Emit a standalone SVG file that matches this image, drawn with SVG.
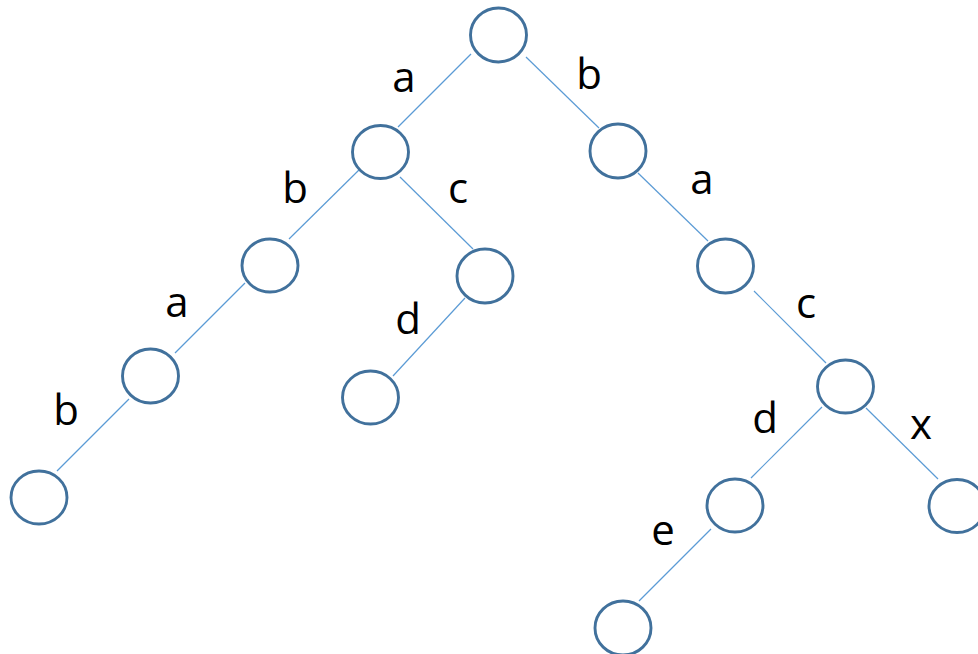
<svg xmlns="http://www.w3.org/2000/svg" width="978" height="654" viewBox="0 0 978 654">
<style>
.n{fill:#fff;stroke:#41719C;stroke-width:2.9}
.e{stroke:#5B9BD5;stroke-width:1.2;fill:none}
.t{font-family:"Open Sans","Liberation Sans",sans-serif;font-size:42px;fill:#000;text-anchor:middle}
</style>
<rect width="978" height="654" fill="#fff"/>
<g id="edges">
<line class="e" x1="471" y1="54" x2="398" y2="127"/>
<line class="e" x1="526" y1="57" x2="599" y2="128"/>
<line class="e" x1="362" y1="167" x2="289" y2="239"/>
<line class="e" x1="400" y1="177" x2="473" y2="249"/>
<line class="e" x1="638" y1="173" x2="708" y2="241"/>
<line class="e" x1="245" y1="283" x2="175" y2="353"/>
<line class="e" x1="465" y1="298" x2="393" y2="376"/>
<line class="e" x1="754" y1="291" x2="826" y2="363"/>
<line class="e" x1="129" y1="399" x2="57" y2="471"/>
<line class="e" x1="822" y1="407" x2="751" y2="478"/>
<line class="e" x1="866" y1="408" x2="938" y2="479"/>
<line class="e" x1="711" y1="529" x2="639" y2="601"/>
</g>
<g id="n0"><ellipse class="n" cx="498.5" cy="35" rx="28" ry="27"/></g>
<g id="n1"><ellipse class="n" cx="380.5" cy="152" rx="28" ry="26.5"/></g>
<g id="n2"><ellipse class="n" cx="618" cy="151" rx="28" ry="27"/></g>
<g id="n3"><ellipse class="n" cx="270" cy="265.5" rx="28" ry="26.5"/></g>
<g id="n4"><ellipse class="n" cx="485" cy="276" rx="28" ry="27"/></g>
<g id="n5"><ellipse class="n" cx="725.5" cy="266" rx="28" ry="27"/></g>
<g id="n6"><ellipse class="n" cx="150.5" cy="376" rx="28" ry="27"/></g>
<g id="n7"><ellipse class="n" cx="370.5" cy="397.5" rx="28" ry="26.5"/></g>
<g id="n8"><ellipse class="n" cx="845.5" cy="386.5" rx="28" ry="26.5"/></g>
<g id="n9"><ellipse class="n" cx="39" cy="497.5" rx="28" ry="26.5"/></g>
<g id="n10"><ellipse class="n" cx="735" cy="505.5" rx="28" ry="26.5"/></g>
<g id="n11"><ellipse class="n" cx="957" cy="506" rx="28" ry="26.5"/></g>
<g id="n12"><ellipse class="n" cx="623" cy="628" rx="28" ry="27"/></g>
<g id="labels">
<text class="t" x="404" y="92">a</text>
<text class="t" x="589" y="89">b</text>
<text class="t" x="295" y="203">b</text>
<text class="t" x="458" y="203">c</text>
<text class="t" x="702" y="194">a</text>
<text class="t" x="177" y="317">a</text>
<text class="t" x="408" y="334">d</text>
<text class="t" x="806" y="318">c</text>
<text class="t" x="66" y="425">b</text>
<text class="t" x="765" y="433">d</text>
<text class="t" x="921" y="439">x</text>
<text class="t" x="663" y="545">e</text>
</g>
</svg>
